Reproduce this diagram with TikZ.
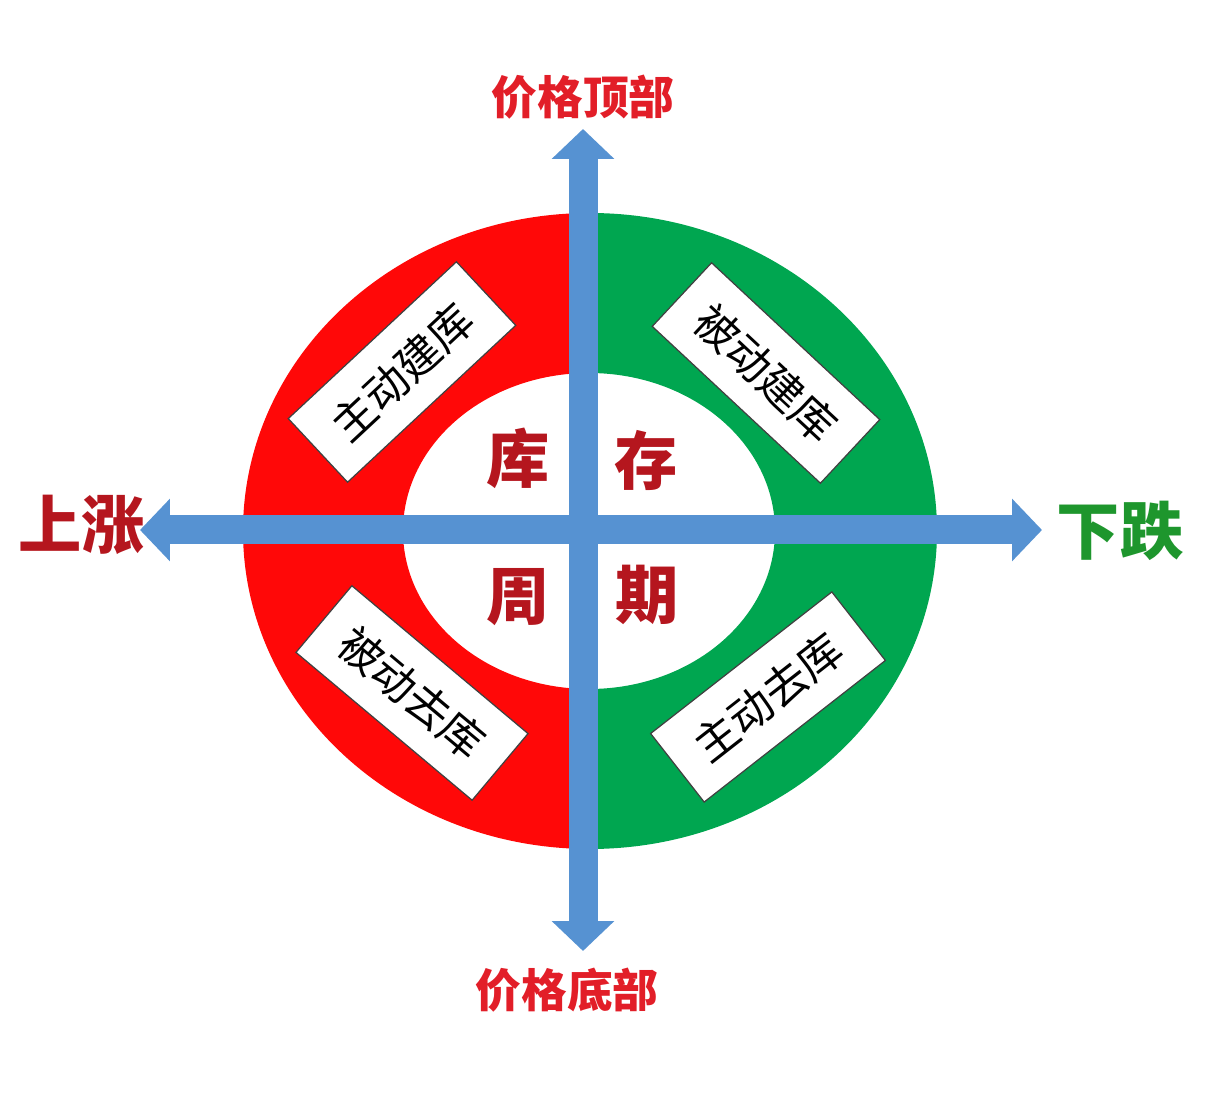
\documentclass[tikz,border=0pt]{standalone}
\usepackage{fontspec}
\newfontfamily\cjk{Noto Sans CJK SC}
\usetikzlibrary{arrows.meta}
\definecolor{ringred}{RGB}{255,8,8}
\definecolor{ringgreen}{RGB}{0,166,80}
\definecolor{axisblue}{RGB}{86,146,210}
\definecolor{darkred}{RGB}{181,22,30}
\definecolor{toptxt}{RGB}{226,30,40}
\definecolor{downgreen}{RGB}{30,150,45}
\begin{document}
\begin{tikzpicture}[x=0.02cm,y=-0.02cm,
  axisarrow/.style={draw=axisblue, line width=0.58cm,
    {Triangle[length=0.6cm,width=1.22cm]}-{Triangle[length=0.6cm,width=1.22cm]}},
  stagebox/.style={draw=black!75, line width=0.7pt, fill=white,
    minimum width=4.6cm, minimum height=1.74cm, inner sep=0pt,
    font=\cjk\fontsize{25}{25}\selectfont},
  centertxt/.style={text=darkred, inner sep=0pt,
    font=\cjk\bfseries\fontsize{36}{36}\selectfont},
  pricelbl/.style={text=toptxt, inner sep=0pt,
    font=\cjk\bfseries\fontsize{26}{26}\selectfont},
  sidelbl/.style={inner sep=0pt, font=\cjk\bfseries\fontsize{36}{36}\selectfont}]
\useasboundingbox (0,0) rectangle (1208,1104);
% ring halves
\begin{scope}
  \clip (0,0) rectangle (583,1104);
  \fill[ringred, even odd rule] (590,531) ellipse [x radius=347, y radius=318]
    (589,531) ellipse [x radius=186, y radius=158];
\end{scope}
\begin{scope}
  \clip (583,0) rectangle (1208,1104);
  \fill[ringgreen, even odd rule] (590,531) ellipse [x radius=347, y radius=318]
    (589,531) ellipse [x radius=186, y radius=158];
\end{scope}
% stage boxes
\node[stagebox, rotate=43] (activebuild) at (402,372) {主动建库};
\node[stagebox, rotate=-43] (passivebuild) at (766,373) {被动建库};
\node[stagebox, rotate=-40] (passivecut) at (412,693) {被动去库};
\node[stagebox, rotate=38] (activecut) at (768,697) {主动去库};
% center text
\node[centertxt] (ku) at (518,458) {库};
\node[centertxt] (cun) at (646,460) {存};
\node[centertxt] (zhou) at (518,597) {周};
\node[centertxt] (qi) at (647,595) {期};
% axes
\coordinate (vtop) at (583,129);
\coordinate (vbot) at (583,951);
\coordinate (hleft) at (140,530);
\coordinate (hright) at (1042,530);
\draw[axisarrow] (hleft) -- (hright);
\draw[axisarrow] (vtop) -- (vbot);
% labels
\node[pricelbl] (pricetop) at (583,97) {价格顶部};
\node[pricelbl] (pricebottom) at (567,990) {价格底部};
\node[sidelbl, text=darkred] (rise) at (82,525) {上涨};
\node[sidelbl, text=downgreen] (fall) at (1120,531) {下跌};
\end{tikzpicture}
\end{document}
